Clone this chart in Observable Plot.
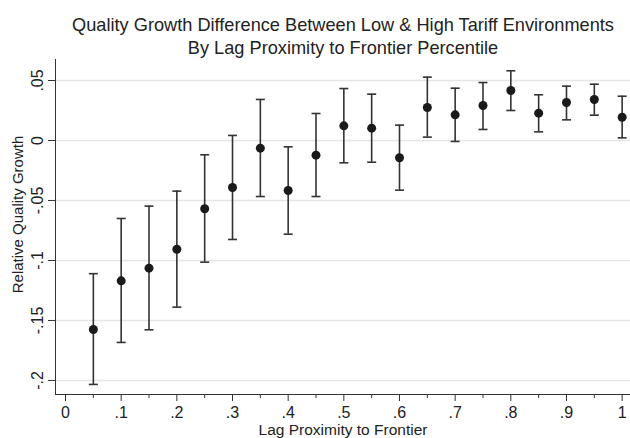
<!DOCTYPE html>
<html>
<head>
<meta charset="utf-8">
<script src="https://cdn.jsdelivr.net/npm/d3@7"></script>
<script src="https://cdn.jsdelivr.net/npm/@observablehq/plot@0.6"></script>
<style>
  html, body { margin: 0; padding: 0; background: #fff; }
  svg { display: block; }
</style>
</head>
<body>
<div id="chart"></div>
<script>
const titleLines = [
  "Quality Growth Difference Between Low & High Tariff Environments",
  "By Lag Proximity to Frontier Percentile"
];
const xLabel = "Lag Proximity to Frontier";
const yLabel = "Relative Quality Growth";

const proximity = [0.05, 0.10, 0.15, 0.20, 0.25, 0.30, 0.35, 0.40, 0.45, 0.50,
                   0.55, 0.60, 0.65, 0.70, 0.75, 0.80, 0.85, 0.90, 0.95, 1.00];
const estimate = [-0.1575, -0.117, -0.1064, -0.0906, -0.0569, -0.0392, -0.0064, -0.0417, -0.0122, 0.0122,
                  0.0103, -0.0144, 0.0275, 0.0214, 0.0292, 0.0417, 0.0228, 0.0317, 0.0342, 0.0194];
const ciUpper = [-0.111, -0.065, -0.0547, -0.0422, -0.0119, 0.0042, 0.0342, -0.0053, 0.0225, 0.0433,
                 0.0386, 0.0128, 0.0528, 0.0436, 0.0483, 0.0581, 0.0381, 0.0453, 0.0469, 0.0369];
const ciLower = [-0.2033, -0.1683, -0.1578, -0.1389, -0.1014, -0.0825, -0.0467, -0.0781, -0.0467, -0.0186,
                 -0.0181, -0.0414, 0.0028, -0.0008, 0.0092, 0.025, 0.0072, 0.0172, 0.0211, 0.0022];

const xTicks = [0, 0.1, 0.2, 0.3, 0.4, 0.5, 0.6, 0.7, 0.8, 0.9, 1];
const xTickLabels = ["0", ".1", ".2", ".3", ".4", ".5", ".6", ".7", ".8", ".9", "1"];
const xMinorTicks = [0.05, 0.15, 0.25, 0.35, 0.45, 0.55, 0.65, 0.75, 0.85, 0.95];
const yTicks = [0.05, 0, -0.05, -0.1, -0.15, -0.2];
const yTickLabels = [".05", "0", "-.05", "-.1", "-.15", "-.2"];

const data = proximity.map((x, i) => ({x, est: estimate[i], lo: ciLower[i], hi: ciUpper[i]}));
const yTickData = yTicks.map((v, i) => ({v, label: yTickLabels[i]}));
const xTickData = xTicks.map((v, i) => ({v, label: xTickLabels[i]}));

const xDomain = [-0.018, 1.015];
const yDomain = [-0.2117, 0.0675];

const capSymbol = {
  draw(context) {
    context.moveTo(-4.5, 0);
    context.lineTo(4.5, 0);
  }
};

const font = "Liberation Sans, Arial, Helvetica, sans-serif";
const ink = "#222";

const chart = Plot.plot({
  width: 630,
  height: 438,
  marginLeft: 55,
  marginRight: 0,
  marginTop: 59,
  marginBottom: 44,
  style: {fontFamily: font, fontSize: "16px", color: ink, background: "#fff"},
  x: {domain: xDomain},
  y: {domain: yDomain},
  marks: [
    Plot.gridY(yTicks, {stroke: "#e6e6e6", strokeOpacity: 1, strokeWidth: 1.5}),
    // axis lines
    Plot.ruleX([xDomain[0]], {stroke: "#333", strokeWidth: 1}),
    Plot.ruleY([yDomain[0]], {stroke: "#333", strokeWidth: 1}),
    // y axis ticks and labels
    Plot.axisY({ticks: yTicks, tickSize: 7, tickFormat: () => "", stroke: "#333", label: null}),
    Plot.text(yTickData, {y: "v", text: "label", frameAnchor: "left", textAnchor: "middle", dx: -17.5, rotate: -90, fontSize: 16, fill: ink}),
    Plot.text([yLabel], {frameAnchor: "left", textAnchor: "middle", dx: -37, dy: -12.5, rotate: -90, fontSize: 15, fill: ink}),
    // x axis ticks and labels
    Plot.axisX({ticks: xTicks, tickSize: 7, tickFormat: () => "", stroke: "#333", label: null}),
    Plot.axisX({ticks: xMinorTicks, tickSize: 4, tickFormat: () => "", stroke: "#333", label: null}),
    Plot.text(xTickData, {x: "v", text: "label", frameAnchor: "bottom", lineAnchor: "bottom", dy: 23, fontSize: 16, fill: ink}),
    Plot.text([xLabel], {frameAnchor: "bottom", lineAnchor: "bottom", dy: 40.5, fontSize: 15.5, fill: ink}),
    // title
    Plot.text([titleLines[0]], {frameAnchor: "top", lineAnchor: "bottom", dy: -29, fontSize: 18.2, fill: ink}),
    Plot.text([titleLines[1]], {frameAnchor: "top", lineAnchor: "bottom", dy: -5.5, fontSize: 18.2, fill: ink}),
    // error bars
    Plot.ruleX(data, {x: "x", y1: "lo", y2: "hi", stroke: "#333", strokeWidth: 1.6}),
    Plot.dot(data, {x: "x", y: "hi", symbol: capSymbol, stroke: "#333", strokeWidth: 1.6, fill: "none", r: 4}),
    Plot.dot(data, {x: "x", y: "lo", symbol: capSymbol, stroke: "#333", strokeWidth: 1.6, fill: "none", r: 4}),
    // point estimates
    Plot.dot(data, {x: "x", y: "est", r: 4.5, fill: "#1a1a1a", stroke: "none"})
  ]
});

document.getElementById("chart").appendChild(chart);
</script>
</body>
</html>
